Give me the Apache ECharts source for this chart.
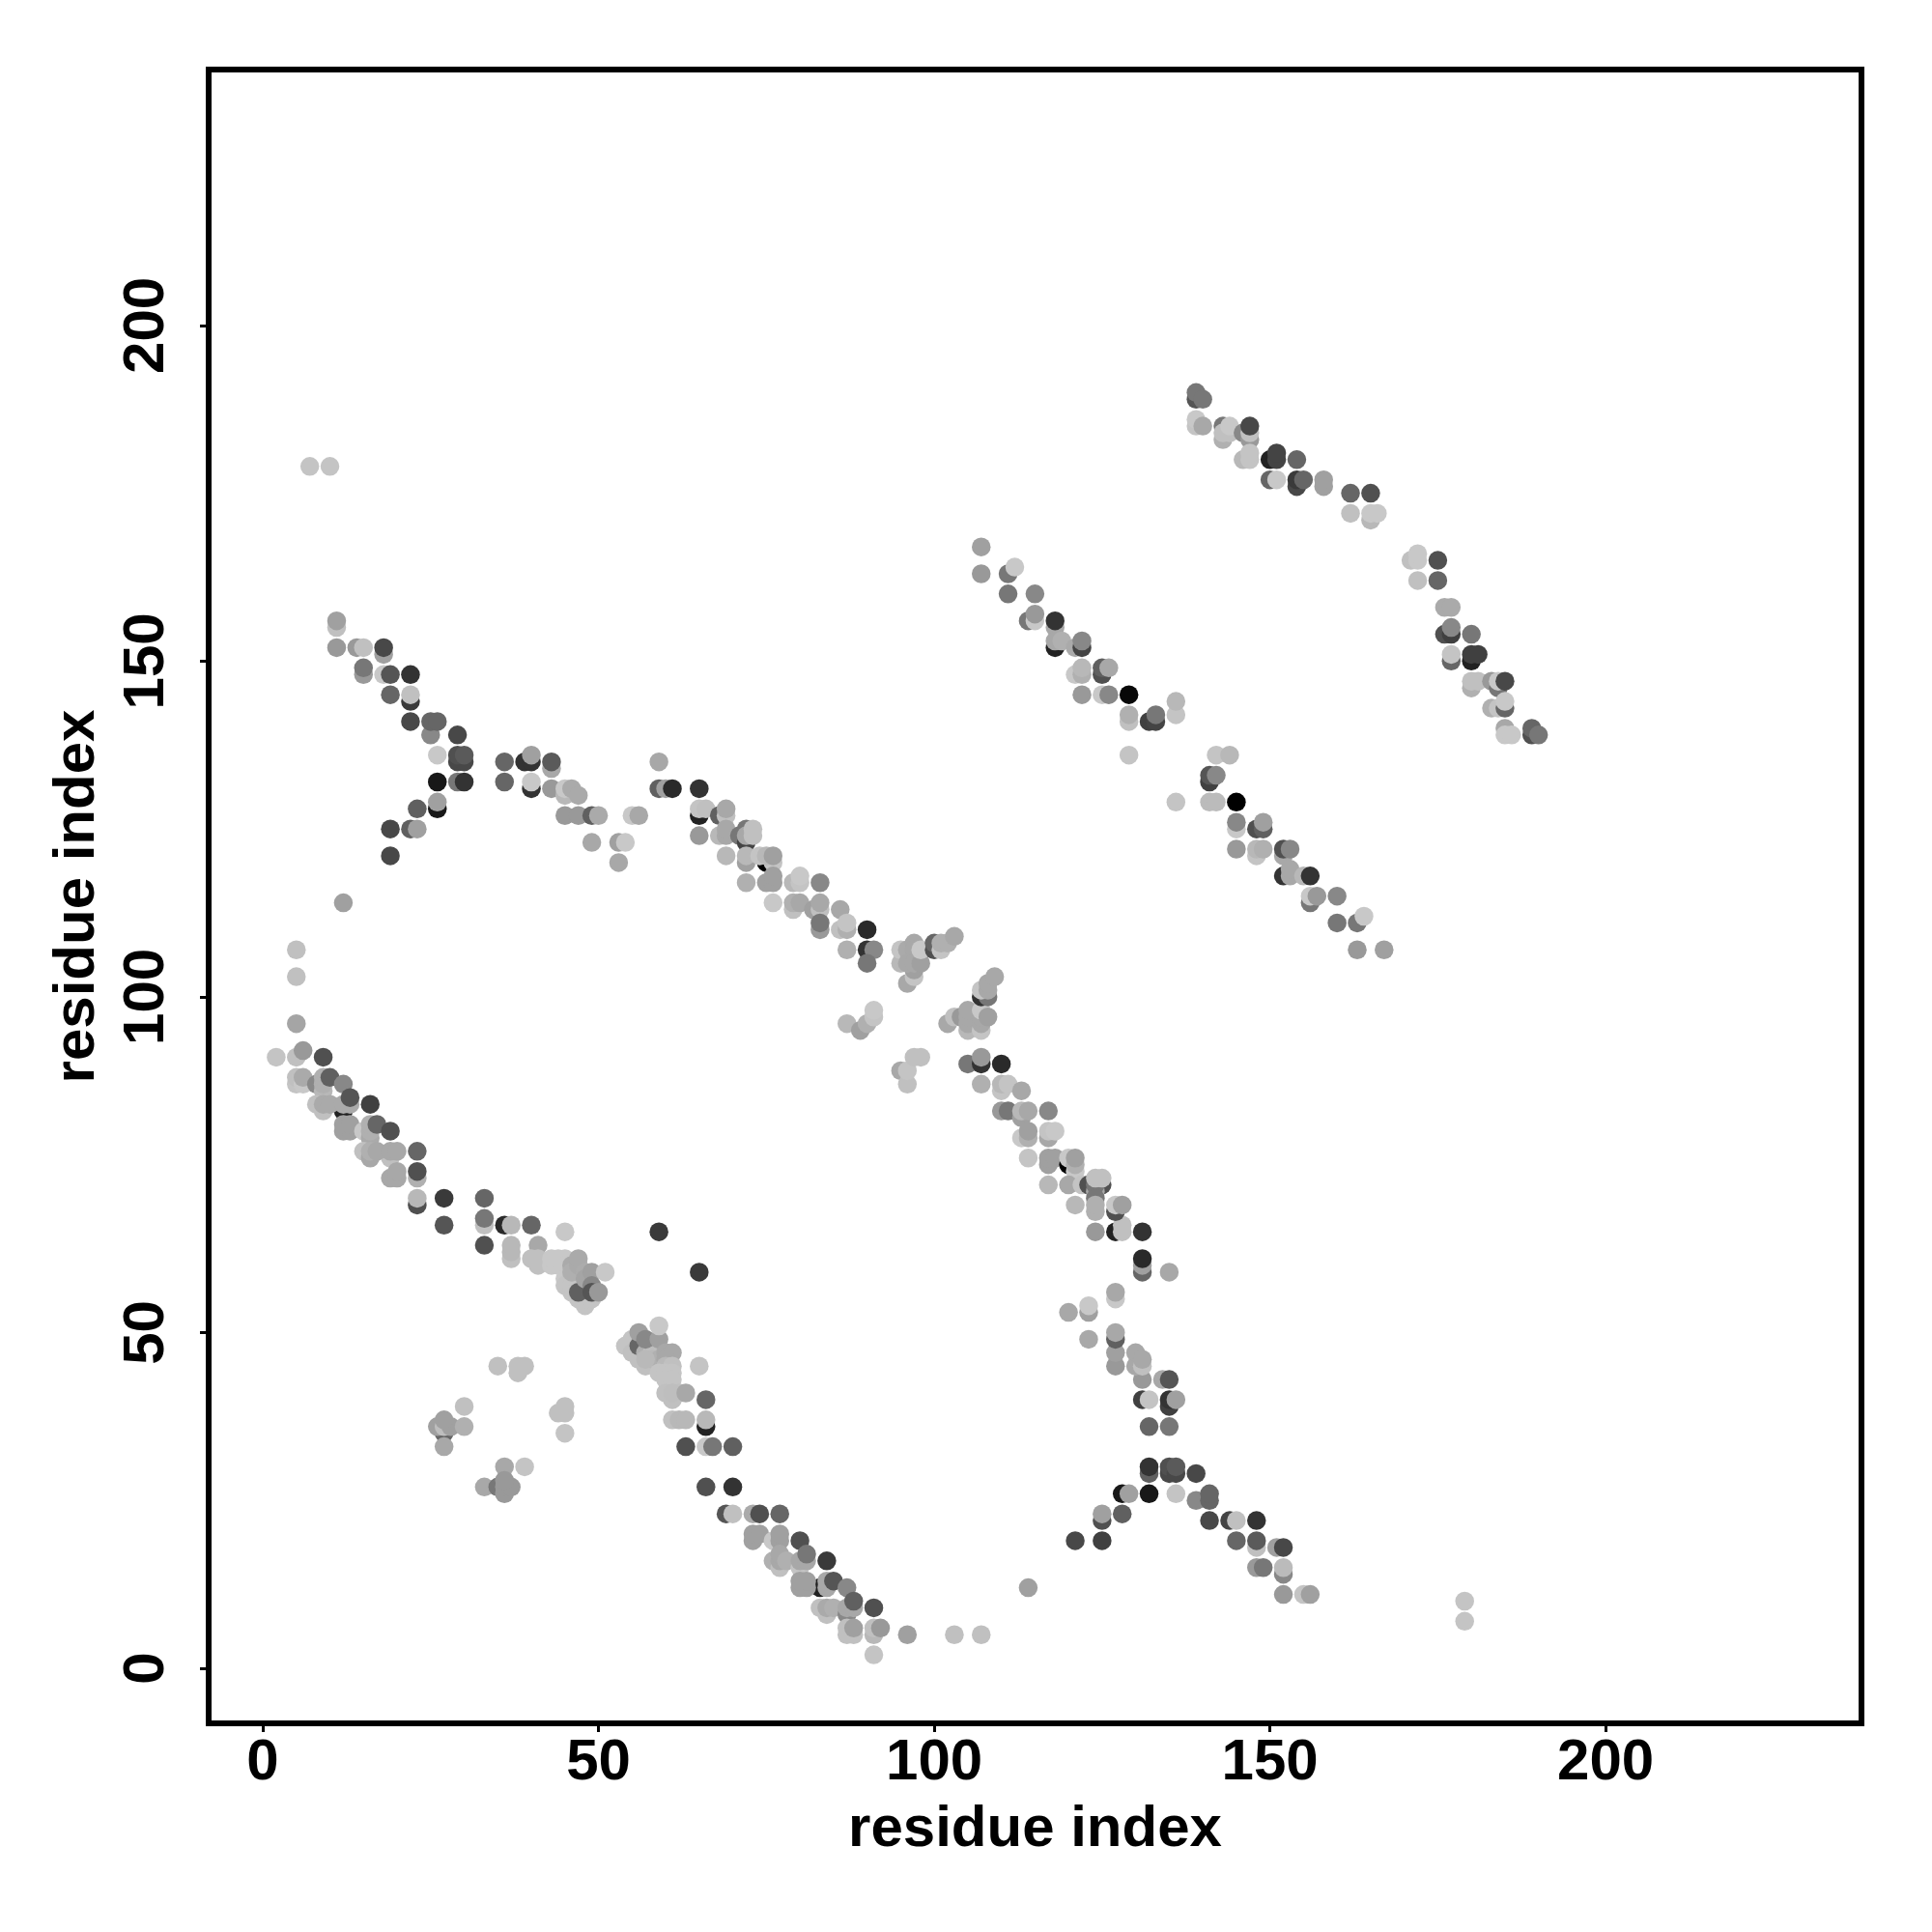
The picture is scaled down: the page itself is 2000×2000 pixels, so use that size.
<!DOCTYPE html>
<html>
<head>
<meta charset="utf-8">
<style>html,body{margin:0;padding:0;background:#fff}#c{width:2000px;height:2000px}</style>
<script src="https://cdn.jsdelivr.net/npm/echarts@6/dist/echarts.min.js"></script>
</head>
<body>
<div id="c"></div>
<script>
const tickValues = [0, 50, 100, 150, 200];
const axisTitle = 'residue index';
// each point: [residue i, residue j, grey level]
const diagLowA = [[5,107,192],[5,103,192],[5,96,165],[2,91,196],[5,91,192],[6,92,153],[9,91,80],[5,87,196],[5,88,192],[6,87,200],[6,88,170],[8,87,136],[9,86,184],[9,87,176],[9,88,176],[10,88,96],[12,87,136],[8,84,192],[9,83,192],[12,83,34],[9,84,170],[10,84,170],[12,84,170],[13,84,170],[13,85,85],[16,84,64],[12,80,160],[13,80,160],[12,81,160],[13,81,160],[15,80,200],[16,79,170],[16,80,176],[16,81,176],[17,81,102],[19,80,80],[15,77,192],[19,76,192],[16,76,168],[16,77,176],[17,77,168],[19,77,168],[20,77,168],[23,77,102],[19,73,168],[20,73,168],[20,74,168],[23,73,176],[23,74,80],[23,69,80],[23,70,184],[27,70,58],[27,66,85],[33,70,102],[33,66,192],[33,67,119],[33,63,80],[36,66,42],[37,66,184],[40,66,102],[45,65,200],[37,61,192],[37,62,184],[37,63,184],[41,63,168],[40,61,192],[41,60,192],[41,61,192]];
const diagLowB = [[43,60,200],[43,61,200],[44,60,200],[44,61,200],[45,61,200],[45,60,200],[45,58,200],[46,58,192],[47,58,192],[45,57,196],[46,56,196],[47,55,196],[48,54,196],[46,57,196],[47,57,196],[48,56,190],[48,55,196],[49,55,196],[46,60,170],[46,59,175],[47,60,170],[47,61,170],[48,59,172],[47,56,96],[48,58,165],[49,59,160],[51,59,200],[49,57,136],[49,56,85],[50,56,153]];
const clusterMid = [[59,65,58],[65,59,58],[54,48,196],[55,49,196],[55,47,192],[56,46,192],[57,45,192],[56,48,102],[57,47,176],[58,48,190],[58,47,190],[58,46,185],[59,46,176],[57,46,185],[56,50,160],[57,49,136],[59,49,160],[59,51,200],[60,47,168],[61,47,168],[60,46,168],[60,45,185],[61,45,192],[59,44,196],[60,44,196],[61,44,196],[60,43,196],[61,43,196],[65,45,196],[60,41,192],[61,40,192],[62,41,192],[61,41,190],[63,41,168],[66,40,102],[61,37,192],[62,37,184],[63,37,184],[66,36,34],[66,37,184],[63,33,80],[66,33,200],[67,33,119],[70,33,96],[66,27,80],[70,27,51]];
const diagLowC = [[69,23,85],[70,23,192],[73,23,170],[74,23,80],[77,23,102],[73,19,160],[73,20,160],[74,20,160],[76,19,200],[77,19,160],[77,20,160],[80,19,80],[76,16,176],[77,15,192],[77,16,168],[77,17,168],[78,16,176],[80,15,196],[80,16,168],[81,16,168],[81,17,119],[84,16,58],[83,12,34],[80,12,160],[81,12,160],[80,13,160],[81,13,160],[84,12,168],[84,13,168],[85,13,85],[87,12,136],[83,9,192],[84,8,192],[84,9,170],[85,9,176],[87,8,136],[87,9,168],[88,9,168],[88,10,96],[91,9,80],[87,5,192],[88,5,192],[87,6,192],[88,6,160],[91,5,184],[91,6,192],[92,6,153],[91,2,196],[96,5,160],[103,5,192],[107,5,192]];
const isolatedLow = [[35,45,192],[38,44,192],[38,45,192],[39,45,192],[30,39,192],[27,35,102],[26,36,160],[27,36,190],[28,36,160],[27,37,160],[30,36,176],[27,33,168],[44,38,192],[45,38,192],[45,39,192],[45,35,196],[36,30,168],[39,30,196],[33,27,168],[35,27,119],[36,26,153],[36,27,153],[37,27,153],[36,28,153],[7,179,196],[10,179,196],[179,10,196],[179,7,196],[12,114,160],[114,12,160]];
const armRight = [[121,19,72],[125,19,64],[125,22,80],[125,23,160],[128,23,96],[128,26,24],[129,26,160],[132,26,24],[132,29,96],[132,30,51],[135,29,72],[135,30,80],[136,29,72],[136,30,90],[139,29,72],[136,26,196],[139,25,136],[141,25,102],[141,26,102],[141,22,72],[144,22,68],[145,22,192],[148,22,51],[145,19,102],[148,18,192],[148,19,90],[151,18,160],[152,18,72],[148,15,153],[149,15,119],[152,14,136],[152,15,187],[152,11,153],[155,11,196],[156,11,160],[132,36,102],[135,36,119],[131,40,64],[132,40,196],[135,39,64],[135,40,51],[136,40,160],[131,43,153],[134,43,168],[135,43,85],[130,45,168],[131,45,192],[130,47,168],[131,46,168],[127,45,153],[127,47,160],[127,49,96],[127,50,168],[123,49,168],[120,53,168],[123,53,160],[123,54,200],[127,55,200],[127,56,168],[131,59,102],[135,59,168],[131,60,160],[131,61,42],[127,65,34],[128,65,192],[128,66,192],[131,65,51],[124,65,153]];
const diagMidUpper = [[59,135,168],[59,131,96],[60,131,160],[61,131,42],[65,131,51],[65,127,34],[65,128,196],[66,128,192],[68,127,96],[69,127,192],[69,128,168],[65,124,153],[68,124,184],[69,124,168],[69,125,168],[71,124,119],[72,123,68],[72,125,119],[72,124,168],[73,124,192],[73,125,192],[69,121,184],[72,120,160],[72,121,184],[75,120,0],[74,121,196],[76,120,196],[75,121,184],[76,121,160],[72,117,176],[75,117,160],[76,117,160],[76,118,160],[79,117,184],[80,117,196],[80,118,200],[83,117,136],[76,114,200],[79,113,192],[79,114,176],[80,114,168],[82,113,160],[83,113,192],[83,114,168],[86,113,168],[83,110,153],[83,111,119],[86,110,192],[87,110,176],[87,111,196],[90,110,42],[87,107,176],[90,107,51],[91,107,136],[90,105,119]];
const forkLeft = [[95,105,184],[95,107,196],[96,107,170],[97,108,168],[97,107,168],[96,102,168],[97,103,196],[97,104,160],[96,105,168],[97,105,168],[98,105,160],[98,107,200],[100,107,80],[100,108,102],[101,107,196],[101,108,176],[102,108,176],[103,109,168],[87,96,184],[89,95,160],[90,96,176],[91,97,196],[91,98,200],[95,89,168],[96,87,192],[96,89,196],[97,91,192],[98,91,192]];
const forkRight = [[102,96,168],[103,97,192],[104,97,153],[105,95,184],[105,96,168],[105,97,168],[105,98,168],[107,95,196],[107,96,168],[107,97,168],[107,98,200],[108,97,160],[107,100,51],[108,100,119],[107,101,196],[108,101,168],[108,102,168],[109,103,168]];
const diagMidLower = [[105,90,119],[107,90,51],[107,91,153],[110,90,42],[107,87,176],[110,86,196],[110,87,184],[111,87,196],[113,86,168],[110,83,153],[111,83,119],[113,82,160],[113,83,184],[114,83,168],[117,83,136],[113,79,200],[114,79,176],[114,80,160],[117,79,168],[117,80,196],[118,80,200],[114,76,196],[117,75,160],[117,76,160],[118,76,160],[120,75,0],[120,76,200],[121,74,200],[121,75,176],[121,76,160],[117,72,184],[120,72,168],[122,72,196],[123,72,80],[125,72,80],[124,71,168],[124,72,119],[124,73,192],[125,73,192],[121,69,184],[124,70,119],[124,68,176],[124,69,176],[127,68,80],[127,69,200],[128,69,160]];
const armLeft = [[11,155,192],[11,156,160],[11,152,153],[14,152,153],[15,152,192],[18,151,160],[18,152,72],[15,148,153],[15,149,119],[18,148,200],[19,148,85],[22,148,51],[19,145,102],[22,144,58],[22,145,192],[22,141,72],[25,139,136],[25,141,102],[26,141,102],[29,139,72],[26,136,200],[29,135,72],[30,135,72],[29,136,80],[30,136,90],[26,132,24],[29,132,119],[30,132,51],[26,128,24],[26,129,160],[23,128,96],[19,125,72],[22,125,96],[23,125,160],[19,121,72],[36,135,102],[36,132,102],[39,135,51],[40,135,51],[40,136,160],[43,134,168],[43,135,90],[40,131,51],[40,132,200],[43,131,153],[45,130,184],[45,131,200],[46,131,170],[47,130,170],[45,127,153],[47,127,153],[49,127,96],[50,127,170],[49,123,168],[53,123,160],[54,123,200],[53,120,168],[55,127,200],[56,127,168]];
const strandUpA = [[107,167,160],[107,163,153],[111,163,119],[112,164,200],[111,160,119],[115,160,136],[114,156,119],[115,156,200],[115,157,153],[118,155,168],[118,156,51],[118,152,34],[118,153,168],[119,153,176],[121,152,170],[122,152,68],[122,153,136],[121,148,200],[122,148,176],[122,149,184],[125,148,80],[125,149,96],[126,149,168],[122,145,153],[125,145,200],[126,145,136],[129,145,8],[129,141,192],[129,142,176],[132,141,64],[133,141,68],[133,142,119],[136,142,196],[136,144,184],[129,136,196]];
const strandUpB = [[142,136,196],[144,136,184],[141,132,64],[141,133,85],[142,133,136],[136,129,196],[141,129,187],[142,129,187],[145,129,0],[145,125,200],[145,126,136],[148,125,80],[149,125,96],[149,126,160],[145,122,153],[148,121,196],[148,122,184],[149,122,176],[152,121,168],[152,122,80],[153,122,136],[152,118,51],[153,118,168],[153,119,168],[155,118,184],[156,118,51],[156,114,119],[156,115,200],[157,115,153],[160,115,136],[160,111,119],[163,111,119],[164,112,200],[163,107,153],[167,107,160]];
const strandTop = [[139,189,85],[139,190,119],[140,189,119],[139,185,196],[139,186,200],[140,185,168],[143,185,119],[143,183,176],[143,184,192],[144,184,192],[144,185,200],[146,184,136],[147,183,153],[147,184,192],[147,185,72],[146,180,184],[147,180,196],[147,181,196],[150,180,34],[151,180,68],[151,181,68],[154,180,102],[150,177,102],[151,177,200],[154,176,72],[154,177,58],[155,177,102],[158,176,160],[158,177,160],[162,175,102],[165,175,80],[162,172,192],[165,171,184],[165,172,200],[166,172,200],[171,165,192],[172,165,200],[172,166,200],[175,165,80],[172,162,192],[175,162,102]];
const strandEnd = [[176,158,170],[177,158,170],[176,154,80],[177,154,64],[177,155,136],[180,154,119],[177,150,102],[177,151,196],[180,150,34],[180,151,64],[181,151,64],[180,146,176],[180,147,192],[181,147,192],[183,147,153],[184,146,119],[184,147,200],[185,147,72],[183,143,176],[184,143,196],[185,143,102],[185,144,200],[185,140,168],[185,139,200],[186,139,200],[189,139,80],[189,140,102],[190,139,119]];

const bands = [diagLowA, diagLowB, clusterMid, diagLowC, isolatedLow, armRight, diagMidUpper, forkLeft, forkRight, diagMidLower, armLeft, strandUpA, strandUpB, strandTop, strandEnd];

const chart = echarts.init(document.getElementById('c'), null, {renderer: 'canvas'});
const font = {fontFamily: '"Liberation Sans", Arial, sans-serif', fontWeight: 'bold', fontSize: 60, color: '#000'};
function makeAxis(min, max, extra) {
  return Object.assign({
    type: 'value', min, max, name: axisTitle, nameLocation: 'middle',
    nameTextStyle: font,
    axisLine: {show: false, onZero: false},
    splitLine: {show: false},
    axisTick: {show: true, inside: false, length: 9, lineStyle: {color: '#000', width: 3}, customValues: tickValues},
  }, extra);
}
chart.setOption({
  animation: false,
  backgroundColor: '#fff',
  grid: {show: true, left: 216, right: 73, top: 72, bottom: 216, borderColor: '#000', borderWidth: 6, backgroundColor: '#fff'},
  xAxis: makeAxis(-8.06, 238.1, {
    nameGap: 80,
    axisLabel: Object.assign({}, font, {margin: 11, customValues: tickValues})
  }),
  yAxis: makeAxis(-8.2, 238.1, {
    nameGap: 106,
    nameRotate: 90,
    axisLabel: Object.assign({}, font, {rotate: 90, margin: 34, customValues: tickValues})
  }),
  series: bands.map(b => ({
    type: 'scatter',
    symbol: 'circle',
    symbolSize: 19.5,
    data: b,
    silent: true,
    itemStyle: {opacity: 1, color: p => { const g = p.data[2]; return 'rgb(' + g + ',' + g + ',' + g + ')'; }}
  }))
});
</script>
</body>
</html>
